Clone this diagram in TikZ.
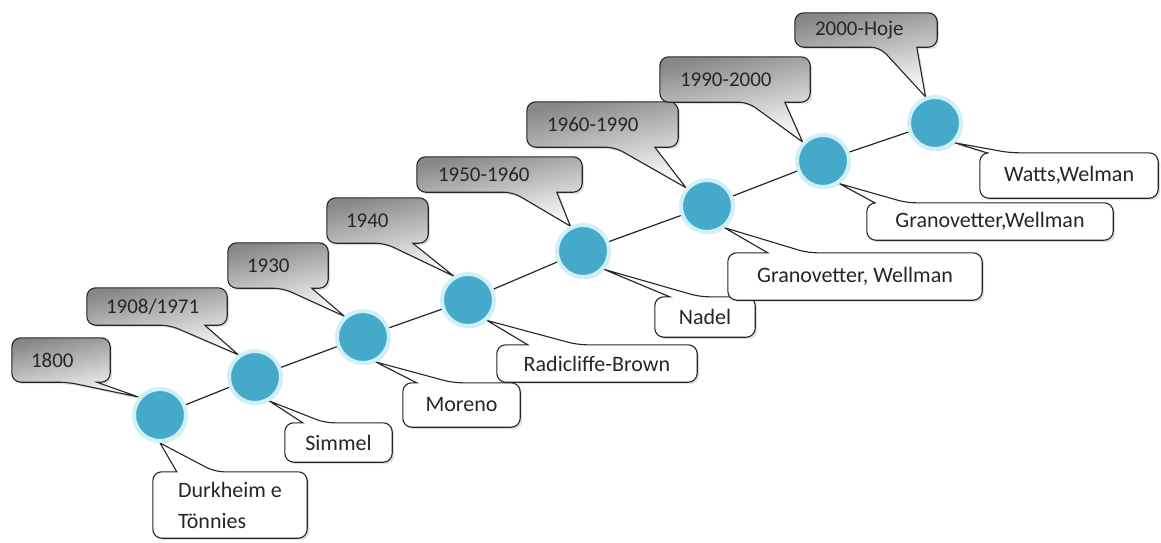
\documentclass[tikz,border=0pt]{standalone}
\usepackage{fontspec}
\setmainfont{Carlito}
\usetikzlibrary{shadows,backgrounds}
\definecolor{dotblue}{RGB}{69,169,201}
\definecolor{dotring}{RGB}{208,240,248}
\definecolor{inkgray}{RGB}{38,38,38}
\tikzset{
	dot/.style={circle, fill=dotblue, draw=dotring, line width=4pt, minimum size=52pt, inner sep=0pt,
		drop shadow={opacity=0.3, shadow xshift=1.5pt, shadow yshift=-2pt}},
	link/.style={draw=inkgray, line width=1.2pt},
	yeartext/.style={inner sep=0pt, align=left, text=inkgray, font=\fontsize{21}{25}\selectfont},
	nametext/.style={inner sep=0pt, align=left, text=inkgray, font=\fontsize{22}{31}\selectfont},
	yearcall/.style={draw=inkgray, line width=1.1pt, top color=black!47, middle color=white, bottom color=white,
		shading angle=12, drop shadow={opacity=0.25, shadow xshift=2pt, shadow yshift=-2pt}},
	namecall/.style={draw=inkgray, line width=1.1pt, fill=white,
		drop shadow={opacity=0.25, shadow xshift=2pt, shadow yshift=-2pt}}
}
\begin{document}
\begin{tikzpicture}[x=1pt, y=-1pt]
	\useasboundingbox (0,0) rectangle (1161,542);
	\begin{scope}[on background layer]
		\fill[white] (0,0) rectangle (1161,542);
	\end{scope}
	\foreach \i/\x/\y in {1/160/415, 2/255/377, 3/363/337, 4/468/300, 5/583/251, 6/707/206, 7/823/161, 8/935/123}
		\node[dot] (c\i) at (\x,\y) {};
	\foreach \i [count=\j from 2] in {1,...,7}
		\draw[link] (c\i) -- (c\j);
	\foreach \i/\x/\y/\w/\h/\tw/\ba/\bb/\a/\txt in {
		1/61/360/98/44/60/56/85/140/{1800},
		2/157/306.5/140/37/102/83/118/127/{1908/1971},
		3/278/265.5/100/45/62/55/84/132/{1930},
		4/377.5/220.5/101/45/63/58/86/121/{1940},
		5/499.5/174.5/165/35/123/96/140/117/{1950-1960},
		6/602.5/124.5/151/45/111/88/128/139/{1960-1990},
		7/735/79.5/150/45/110/88/125/137/{1990-2000},
		8/866/30/142/34/102/85/122/110/{2000-Hoje}}
	{
		\node[yeartext, minimum width=\w pt, minimum height=\h pt, text width=\tw pt] (t\i) at (\x,\y) {\txt};
		\begin{scope}[on background layer]
			\path[yearcall] (c\i.\a) -- ([xshift=\bb pt]t\i.south west) [rounded corners=9pt] -- (t\i.south east)
				-- (t\i.north east) -- (t\i.north west) -- (t\i.south west) -- ([xshift=\ba pt]t\i.south west) [sharp corners] -- cycle;
		\end{scope}
	}
	\foreach \i/\x/\y/\w/\h/\ba/\bb/\a/\txt in {
		1/230/505/154/66/24/62/270/{Durkheim e\\Tönnies},
		2/338.5/442.5/107/39/18/40/301/{Simmel},
		3/461.5/405/117/44/14/50/297/{Moreno},
		4/597/363.5/200/37/31/81/313/{Radicliffe-Brown},
		5/705/317/100/40/15/45/319/{Nadel},
		6/855/276.5/254/47/40/80/309/{Granovetter, Wellman},
		7/990/221.5/246/37/8/40/306/{Granovetter,Wellman},
		8/1069/175.5/178/45/7/30/315/{Watts,Welman}}
	{
		\node[nametext, minimum width=\w pt, minimum height=\h pt] (n\i) at (\x,\y) {\txt};
		\begin{scope}[on background layer]
			\path[namecall] (c\i.\a) -- ([xshift=\ba pt]n\i.north west) [rounded corners=9pt] -- (n\i.north west)
				-- (n\i.south west) -- (n\i.south east) -- (n\i.north east) -- ([xshift=\bb pt]n\i.north west) [sharp corners] -- cycle;
		\end{scope}
	}
\end{tikzpicture}
\end{document}
